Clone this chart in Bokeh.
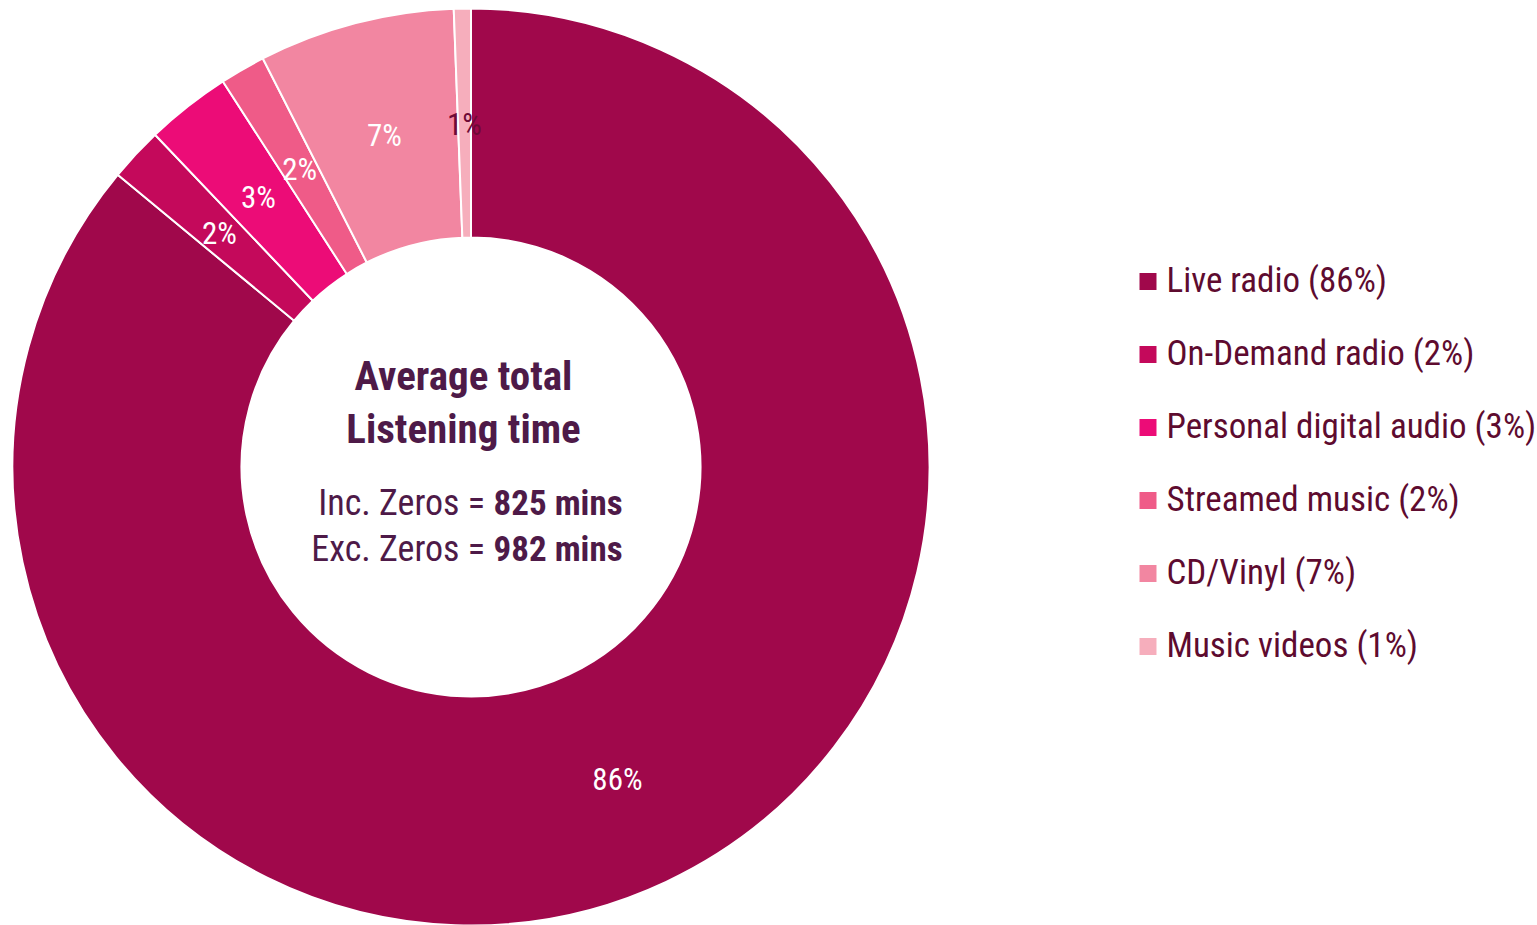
import math
from bokeh.plotting import figure
from bokeh.models import Range1d
from bokeh.core.properties import value
from bokeh.embed import file_html
from bokeh.resources import INLINE

# ---- data ----
categories = ["Live radio", "On-Demand radio", "Personal digital audio",
              "Streamed music", "CD/Vinyl", "Music videos"]
shares = [86.0, 1.9, 3.0, 1.6, 6.9, 0.6]
colors = ["#A0084B", "#C4095B", "#EC0C77", "#EF5B88", "#F286A1", "#F6AEBC"]
label_colors = ["#FFFFFF", "#FFFFFF", "#FFFFFF", "#FFFFFF", "#FFFFFF", "#6E0A36"]
center_title = ["Average total", "Listening time"]
center_left = ["Inc. Zeros =", "Exc. Zeros ="]
center_right = ["825 mins", "982 mins"]

FONT = "Roboto Condensed"
W, H = 1537, 925

p = figure(width=W, height=H, x_range=Range1d(0, W), y_range=Range1d(0, H),
           output_backend="svg", toolbar_location=None, min_border=0)
p.axis.visible = False
p.grid.visible = False
p.outline_line_color = None

cx, cy = 470.5, 925 - 466.5
r_out, r_in = 458.5, 229.5

total = sum(shares)
cum = 0.0
starts, ends, lx, ly, labels = [], [], [], [], []
for s in shares:
    a0 = math.pi / 2 - 2 * math.pi * cum / total
    cum += s
    a1 = math.pi / 2 - 2 * math.pi * cum / total
    starts.append(a0)
    ends.append(a1)
    am = (a0 + a1) / 2
    rm = (r_in + r_out) / 2
    lx.append(cx + rm * math.cos(am))
    ly.append(cy + rm * math.sin(am))
    labels.append(f"{round(s)}%")

p.annular_wedge(x=[cx] * len(shares), y=[cy] * len(shares),
                inner_radius=r_in, outer_radius=r_out,
                start_angle=starts, end_angle=ends, direction="clock",
                fill_color=colors, line_color="white", line_width=2)

p.text(x=lx, y=[v - 1 for v in ly], text=labels, text_color=label_colors,
       text_font=value(FONT), text_font_size="31px",
       text_align="center", text_baseline="middle")

# center text
p.text(x=[cx - 7.5, cx - 7.5], y=[cy + 91, cy + 38], text=center_title,
       text_color="#4E1A48", text_font=value(FONT), text_font_size="41px",
       text_font_style="bold", text_align="center", text_baseline="middle")
p.text(x=[cx + 14, cx + 14], y=[cy - 36, cy - 82], text=center_left,
       text_color="#4E1A48", text_font=value(FONT), text_font_size="36px",
       text_align="right", text_baseline="middle")
p.text(x=[cx + 22.5, cx + 22.5], y=[cy - 36, cy - 82], text=center_right,
       text_color="#4E1A48", text_font=value(FONT), text_font_size="35px",
       text_font_style="bold", text_align="left", text_baseline="middle")

# legend
leg_y = [925 - 281 - i * 73 for i in range(len(categories))]
p.rect(x=[1147.5] * len(categories), y=leg_y, width=17, height=17,
       width_units="screen", height_units="screen",
       fill_color=colors, line_color=None)
leg_text = [f"{c} ({round(s)}%)" for c, s in zip(categories, shares)]
p.text(x=[1166] * len(categories), y=[v + 1 for v in leg_y], text=leg_text,
       text_color="#5E0B2F", text_font=value(FONT), text_font_size="35px",
       text_align="left", text_baseline="middle")

open("out.html", "w").write(file_html(p, INLINE))
